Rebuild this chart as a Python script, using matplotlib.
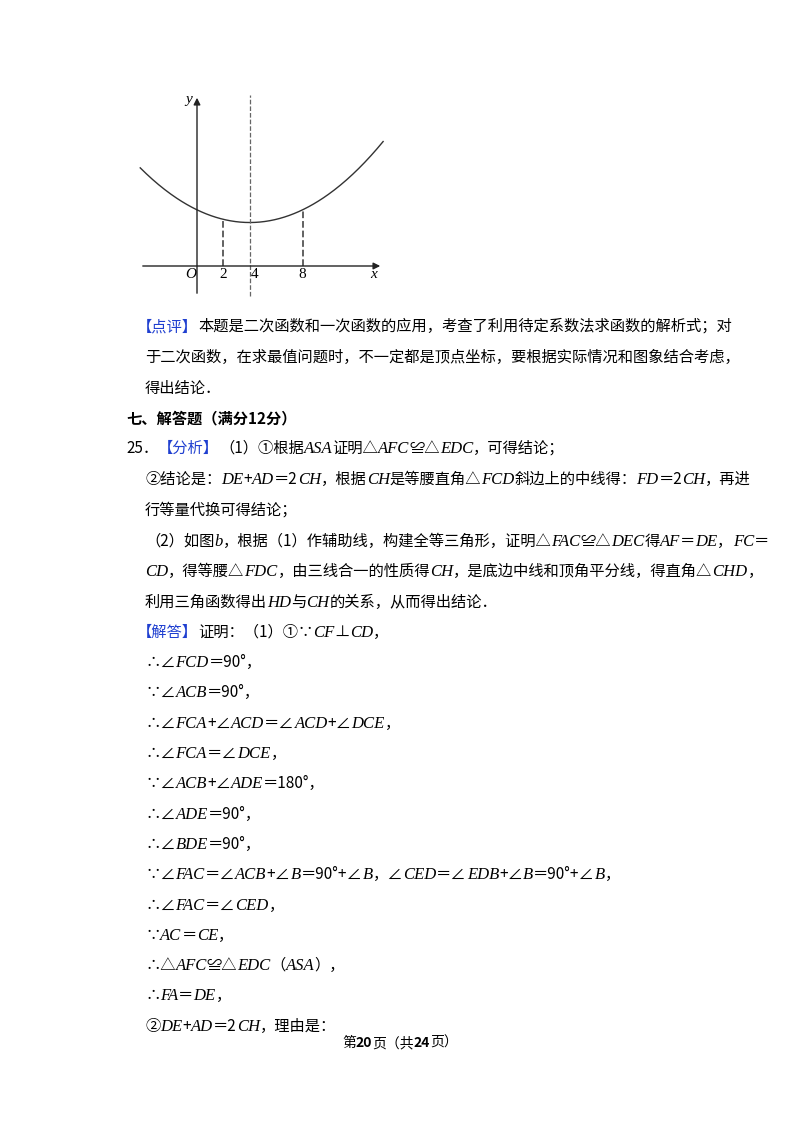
import re
import numpy as np
import matplotlib
matplotlib.use("Agg")
import matplotlib.pyplot as plt

# curve points (x units, y units)
curve_x = [-4.3, -2, 0, 2, 4, 6, 8, 10, 12, 14.1]
curve_y = [7.4, 5.6, 4.25, 3.45, 3.2, 3.45, 4.25, 5.6, 7.4, 9.2]
tick_vals = [2, 4, 8]
tick_labels = ["2", "4", "8"]

W, H = 800, 1132
fig = plt.figure(figsize=(8, 11.32), dpi=100)
fig.patch.set_facecolor("white")

# ---- chart ----
ux = 13.2  # px per unit
x0, y0 = 197, 266
L, R, T, B = 130, 392, 88, 302
ax = fig.add_axes([L / W, 1 - B / H, (R - L) / W, (B - T) / H])
ax.set_xlim((L - x0) / ux, (R - x0) / ux)
ax.set_ylim((y0 - B) / ux, (y0 - T) / ux)
ax.axis("off")
c = np.polyfit(curve_x, curve_y, 2)
xs = np.linspace(curve_x[0], curve_x[-1], 200)
ax.plot(xs, np.polyval(c, xs), color="#333", lw=1)
ax.annotate("", xy=((383 - x0) / ux, 0), xytext=((140 - x0) / ux, 0),
            arrowprops=dict(arrowstyle="-|>", color="#222", lw=1, mutation_scale=10))
ax.annotate("", xy=(0, (y0 - 95) / ux), xytext=(0, (y0 - 296) / ux),
            arrowprops=dict(arrowstyle="-|>", color="#222", lw=1, mutation_scale=10))
ax.plot([4, 4], [(y0 - 296) / ux, (y0 - 95) / ux], ls="--", color="#666", lw=0.9)
for v in (2, 8):
    ax.plot([v, v], [0, np.polyval(c, v)], ls="--", color="#555", lw=1.3)
for v, lab in zip(tick_vals, tick_labels):
    ax.text(v + (0.35 if v == 4 else 0), -0.15, lab, ha="center", va="top",
            fontsize=11, family="Liberation Serif")
ax.text(-0.5, -0.15, "O", ha="center", va="top", fontsize=11, family="Liberation Serif", style="italic")
ax.text((374 - x0) / ux, -0.15, "x", ha="center", va="top", fontsize=11, family="Liberation Serif", style="italic")
ax.text(-0.6, (y0 - 100) / ux, "y", ha="center", va="center", fontsize=11, family="Liberation Serif", style="italic")

# ---- text ----
renderer = fig.canvas.get_renderer()
BLUE = "#1f3fd0"
FS = 11

def draw_line(x, y, s, bold=False, ha_center=False):
    # markup: {segment} -> blue
    parts = re.split(r"(\{[^}]*\})", s)
    runs = []
    for p in parts:
        if not p:
            continue
        if p.startswith("{"):
            runs.append((p[1:-1], "blue"))
        else:
            for q in re.split(r"([A-Za-z]+)", p):
                if q:
                    runs.append((q, "ital" if re.fullmatch(r"[A-Za-z]+", q) else "norm"))
    arts = []
    cx = x
    for t, kind in runs:
        kw = dict(fontsize=FS, va="baseline", color="black",
                  family=["Noto Sans CJK SC", "DejaVu Sans"],
                  fontweight="bold" if bold else "normal")
        if kind == "blue":
            kw["color"] = BLUE
        if kind == "ital":
            kw["family"] = "Liberation Serif"
            kw["style"] = "italic"
            kw["fontsize"] = FS + 1
        a = fig.text(cx / W, 1 - y / H, t, **kw)
        bb = a.get_window_extent(renderer)
        cx += bb.width
        arts.append(a)
    if ha_center:
        shift = (cx - x) / 2
        for a in arts:
            px, py = a.get_position()
            a.set_position((px - shift / W, py))

lines = [
    (137, 331, "{【点评】}本题是二次函数和一次函数的应用，考查了利用待定系数法求函数的解析式；对"),
    (145, 362, "于二次函数，在求最值问题时，不一定都是顶点坐标，要根据实际情况和图象结合考虑，"),
    (145, 393, "得出结论．"),
    (126, 453, "25．{【分析】}（1）①根据ASA证明△AFC≌△EDC，可得结论；"),
    (145, 484, "②结论是：DE+AD＝2CH，根据CH是等腰直角△FCD斜边上的中线得：FD＝2CH，再进"),
    (145, 515, "行等量代换可得结论；"),
    (145, 546, "（2）如图b，根据（1）作辅助线，构建全等三角形，证明△FAC≌△DEC得AF＝DE，FC＝"),
    (145, 576, "CD，得等腰△FDC，由三线合一的性质得CH，是底边中线和顶角平分线，得直角△CHD，"),
    (145, 607, "利用三角函数得出HD与CH的关系，从而得出结论．"),
    (137, 637, "{【解答】}证明：（1）①∵CF⊥CD，"),
    (145, 667, "∴∠FCD＝90°，"),
    (145, 697, "∵∠ACB＝90°，"),
    (145, 728, "∴∠FCA+∠ACD＝∠ACD+∠DCE，"),
    (145, 758, "∴∠FCA＝∠DCE，"),
    (145, 788, "∵∠ACB+∠ADE＝180°，"),
    (145, 819, "∴∠ADE＝90°，"),
    (145, 849, "∴∠BDE＝90°，"),
    (145, 879, "∵∠FAC＝∠ACB+∠B＝90°+∠B，∠CED＝∠EDB+∠B＝90°+∠B，"),
    (145, 910, "∴∠FAC＝∠CED，"),
    (145, 940, "∵AC＝CE，"),
    (145, 970, "∴△AFC≌△EDC（ASA），"),
    (145, 1000, "∴FA＝DE，"),
    (145, 1031, "②DE+AD＝2CH，理由是："),
]
for x, y, s in lines:
    draw_line(x, y, s)
draw_line(126, 423, "七、解答题（满分12分）", bold=True)

# footer
fs_parts = [("第", False), ("20", True), ("页（共", False), ("24", True), ("页）", False)]
arts = []
cx = 0
for t, b in fs_parts:
    a = fig.text(cx / W, 1 - 1047 / H, t, fontsize=10, va="baseline",
                 family=["Noto Sans CJK SC", "DejaVu Sans"],
                 fontweight="bold" if b else "normal")
    w = a.get_window_extent(renderer).width
    arts.append((a, cx))
    cx += w
start = 400 - cx / 2
for a, off in arts:
    a.set_position(((start + off) / W, 1 - 1047 / H))

fig.savefig("out.png", dpi=100, facecolor="white")
